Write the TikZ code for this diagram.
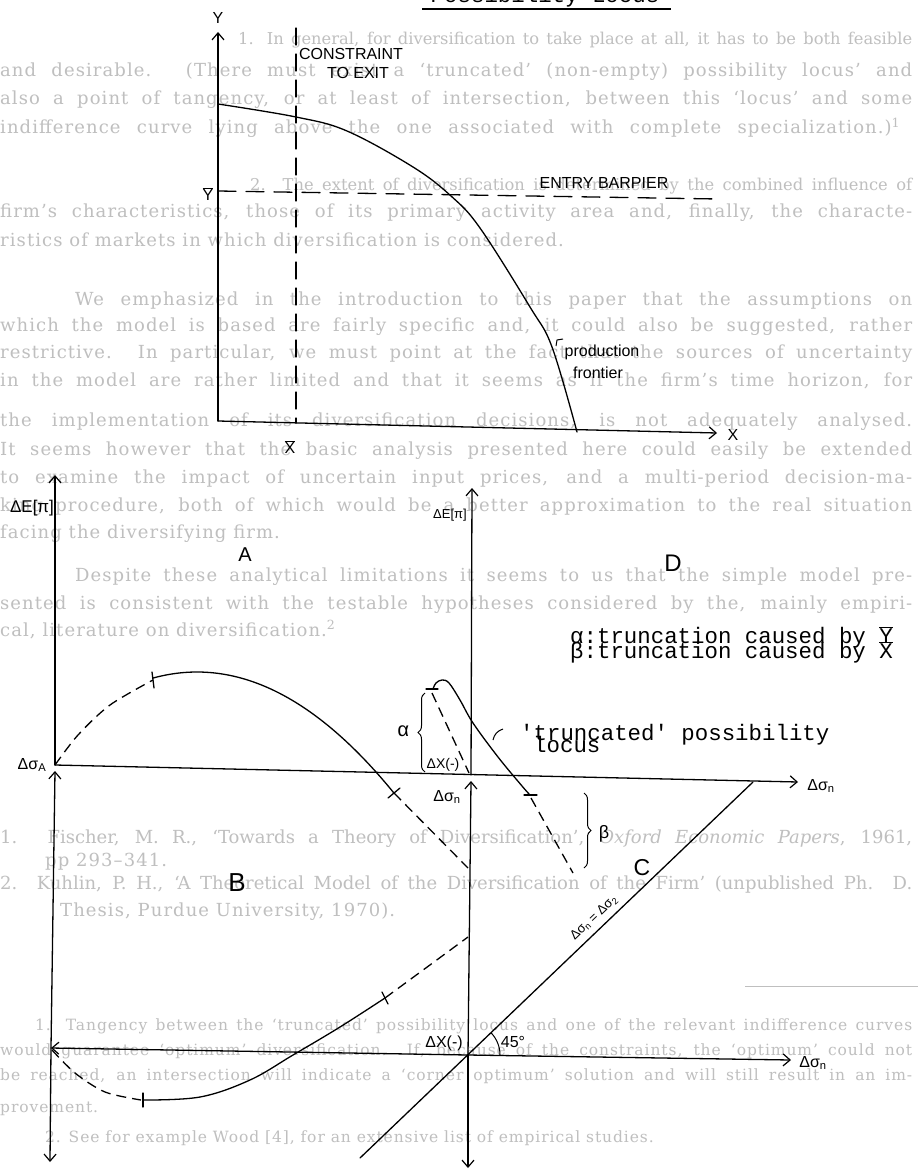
\documentclass[tikz,border=0pt]{standalone}
\usepackage{fontspec}
\setmainfont{Liberation Serif}
\setsansfont{Liberation Sans}
\setmonofont{Liberation Mono}
\newfontfamily\bgfont[LetterSpace=6]{DejaVu Serif}
\newfontfamily\bgfontN{DejaVu Serif}
\usetikzlibrary{arrows.meta,decorations.pathreplacing}
\newcommand{\jb}[2]{\makebox[#1pt][s]{#2}}
\begin{document}
\begin{tikzpicture}[x=1pt,y=-1pt,
  ax/.style={line width=1.3pt,line cap=round},
  tipend/.style={-{Straight Barb[length=7pt,width=12pt,line width=1.2pt]}},
  dsh/.style={line width=1.3pt,dash pattern=on 10pt off 6pt},
  hand/.style={font=\sffamily\fontsize{16}{16}\selectfont,inner sep=0pt},
  big/.style={font=\sffamily\fontsize{20}{20}\selectfont,inner sep=0pt},
  tw/.style={font=\ttfamily\fontsize{22.4}{15}\selectfont,inner sep=0pt,anchor=base west},
  bg/.style={font=\bgfont\fontsize{18}{18}\selectfont,text=black!25,inner sep=0pt,anchor=base west},
  bgn/.style={font=\bgfontN\fontsize{16.3}{16.3}\selectfont,text=black!25,inner sep=0pt,anchor=base west},
  fn/.style={font=\bgfont\fontsize{15.5}{15.5}\selectfont,text=black!25,inner sep=0pt,anchor=base west}]
\useasboundingbox (0,0) rectangle (919,1169);
\fill[white] (0,0) rectangle (919,1169);

% ---------------- faint page text behind the drawing ----------------
\node[tw,anchor=base] (hdr) at (545,3) {Possibility Locus};
\coordinate (hu1) at (422,9); \coordinate (hu2) at (671,9);
\draw[line width=1.5pt] (hu1) -- (hu2);

\node[bgn] (b01) at (238,45) {\jb{674}{1. In general, for diversification to take place at all, it has to be both feasible}};
\node[bg] (b02) at (0,77) {\jb{912}{and desirable. (There must exist a ‘truncated’ (non-empty) possibility locus’ and}};
\node[bg] (b03) at (0,105) {\jb{912}{also a point of tangency, or at least of intersection, between this ‘locus’ and some}};
\node[bg] (b04) at (0,134) {\jb{900}{indifference curve lying above the one associated with complete specialization.)\textsuperscript{1}}};
\node[bgn] (b05) at (250,190) {\jb{662}{2. The extent of diversification is determined by the combined influence of}};
\node[bg] (b06) at (0,218) {\jb{912}{firm’s characteristics, those of its primary activity area and, finally, the characte-}};
\node[bg] (b07) at (0,246) {ristics of markets in which diversification is considered.};
\node[bg] (b08) at (75,305) {\jb{837}{We emphasized in the introduction to this paper that the assumptions on}};
\node[bg] (b09) at (0,331) {\jb{912}{which the model is based are fairly specific and, it could also be suggested, rather}};
\node[bg] (b10) at (0,358) {\jb{912}{restrictive. In particular, we must point at the fact that the sources of uncertainty}};
\node[bg] (b11) at (0,386) {\jb{912}{in the model are rather limited and that it seems as if the firm’s time horizon, for}};
\node[bg] (b12) at (0,426) {\jb{912}{the implementation of its diversification decisions, is not adequately analysed.}};
\node[bg] (b13) at (0,455) {\jb{912}{It seems however that the basic analysis presented here could easily be extended}};
\node[bg] (b14) at (0,483) {\jb{912}{to examine the impact of uncertain input prices, and a multi-period decision-ma-}};
\node[bg] (b15) at (0,511) {\jb{912}{king procedure, both of which would be a better approximation to the real situation}};
\node[bg] (b16) at (0,538) {facing the diversifying firm.};
\node[bg] (b17) at (75,581) {\jb{837}{Despite these analytical limitations it seems to us that the simple model pre-}};
\node[bg] (b18) at (0,609) {\jb{912}{sented is consistent with the testable hypotheses considered by the, mainly empiri-}};
\node[bg] (b19) at (0,636) {cal, literature on diversification.\textsuperscript{2}};
\node[bgn,font=\bgfontN\fontsize{18}{18}\selectfont] (r1) at (0,843) {\jb{912}{1. Fischer, M. R., ‘Towards a Theory of Diversification’, \textit{Oxford Economic Papers}, 1961,}};
\node[bg] (r2) at (45,866) {pp 293–341.};
\node[bgn,font=\bgfontN\fontsize{18}{18}\selectfont] (r3) at (0,889) {\jb{912}{2. Kuhlin, P. H., ‘A Theoretical Model of the Diversification of the Firm’ (unpublished Ph. D.}};
\node[bg] (r4) at (60,916) {Thesis, Purdue University, 1970).};
\coordinate (ru1) at (745,986); \coordinate (ru2) at (918,986);
\draw[black!25,line width=0.8pt] (ru1) -- (ru2);
\node[fn] (f1) at (35,1030) {\jb{877}{1. Tangency between the ‘truncated’ possibility locus and one of the relevant indifference curves}};
\node[fn] (f2) at (0,1055) {\jb{912}{would guarantee ‘optimum’ diversification. If, because of the constraints, the ‘optimum’ could not}};
\node[fn] (f3) at (0,1080) {\jb{912}{be reached, an intersection will indicate a ‘corner optimum’ solution and will still result in an im-}};
\node[fn] (f4) at (0,1112) {provement.};
\node[fn] (f5) at (45,1142) {2. See for example Wood [4], for an extensive list of empirical studies.};

% ---------------- upper diagram ----------------
\coordinate (O1) at (218,421);
\coordinate (Ytop) at (218,32);
\coordinate (Xend) at (717,433);
\coordinate (Ct) at (296,28);
\coordinate (Cb) at (296,423);
\coordinate (Eb1) at (218,191);
\coordinate (Eb2) at (718,199);
\draw[ax,tipend] (O1) -- (Ytop);
\draw[ax,tipend] (O1) -- (Xend);
\draw[ax,dash pattern=on 17pt off 9pt] (Ct) -- (Cb);
\draw[ax,dash pattern=on 18pt off 10pt] (Eb1) -- (Eb2);
\draw[ax] plot[smooth,tension=0.6] coordinates {(218,104) (296,117) (347,131) (413,167) (451,196) (480,228) (530,307) (552,347) (577,432)};
\coordinate (pf1) at (556,346); \coordinate (pf2) at (557,340); \coordinate (pf3) at (563,339);
\draw[line width=1pt] (pf1) -- (pf2) -- (pf3);

\node[hand] (lY) at (218,18) {Y};
\node[hand] (lC1) at (351,54) {CONSTRAINT};
\node[hand] (lC2) at (358,73) {TO EXIT};
\node[hand] (lEB) at (604,183) {ENTRY BARPIER};
\node[hand] (lYb) at (208,194) {$\overline{\mbox{Y}}$};
\node[hand] (lXb) at (290,447) {$\overline{\mbox{X}}$};
\node[hand] (lX) at (733,435) {X};
\node[hand] (lp1) at (602,352) {production};
\node[hand] (lp2) at (598,373) {frontier};

% ---------------- lower diagram ----------------
\coordinate (LT) at (55,475);
\coordinate (LM) at (55,765);
\coordinate (LMa) at (55,771);
\coordinate (LL) at (51,1048);
\coordinate (LB) at (50,1162);
\coordinate (MT) at (472,488);
\coordinate (MM) at (471,775);
\coordinate (MMa) at (471,781);
\coordinate (ML) at (468,1055);
\coordinate (MB) at (468,1168);
\coordinate (HR) at (798,782);
\coordinate (LR) at (791,1060);
\coordinate (DgA) at (360,1158);
\coordinate (DgB) at (753,782);

\draw[ax,tipend] (LM) -- (LT);
\draw[ax,tipend] (LL) -- (LB);
\draw[ax,tipend] (LL) -- (LMa);
\draw[ax,tipend] (MM) -- (MT);
\draw[ax,tipend] (ML) -- (MB);
\draw[ax,tipend] (ML) -- (MMa);
\draw[ax,tipend] (LM) -- (HR);
\draw[ax,tipend] (ML) -- (LL);
\draw[ax,tipend] (ML) -- (LR);
\draw[ax] (DgA) -- (DgB);

% quadrant A curve
\draw[dsh] plot[smooth] coordinates {(55,765) (78,735) (110,705) (153,680)};
\coordinate (ta1) at (152,672); \coordinate (ta2) at (154,688);
\draw[ax] (ta1) -- (ta2);
\draw[ax] plot[domain=153:394,samples=40,smooth] (\x,{672+(0.05586*(\x-197))^2});
\coordinate (tb1) at (388,798); \coordinate (tb2) at (400,788);
\draw[ax] (tb1) -- (tb2);
\coordinate (Aend) at (394,793); \coordinate (Ahit) at (468,868);
\draw[dsh] (Aend) -- (Ahit);

% quadrant D truncated locus
\coordinate (td1) at (426,689); \coordinate (td2) at (438,689);
\draw[ax] (td1) -- (td2);
\draw[ax] plot[smooth,tension=0.6] coordinates {(433,689) (436,683) (442,680) (449,683) (460,700) (473,723) (498,757) (522,786) (530,795)};
\coordinate (te1) at (524,795); \coordinate (te2) at (537,795);
\draw[ax] (te1) -- (te2);
\coordinate (al1) at (432,693); \coordinate (al2) at (469,773);
\draw[dsh] (al1) -- (al2);
\coordinate (be1) at (531,798); \coordinate (be2) at (573,873);
\draw[dsh] (be1) -- (be2);
\coordinate (bra1) at (425,772); \coordinate (bra2) at (425,693);
\draw[line width=1pt,decorate,decoration={brace,amplitude=7pt}] (bra1) -- (bra2);
\coordinate (brb1) at (584,793); \coordinate (brb2) at (584,868);
\draw[line width=1pt,decorate,decoration={brace,amplitude=7pt}] (brb1) -- (brb2);
\coordinate (ld1) at (493,740); \coordinate (ld2) at (503,729);
\draw[line width=1pt] (ld1) to[bend left=30] (ld2);

% quadrant B curve
\draw[dsh] plot[smooth] coordinates {(52,1050) (75,1073) (105,1092) (141,1100)};
\coordinate (tc1) at (143,1093); \coordinate (tc2) at (143,1107);
\draw[ax] (tc1) -- (tc2);
\draw[ax] plot[smooth,tension=0.6] coordinates {(143,1100) (200,1097) (250,1080) (293,1055) (340,1027) (385,998)};
\coordinate (tf1) at (382,992); \coordinate (tf2) at (388,1004);
\draw[ax] (tf1) -- (tf2);
\coordinate (Bend) at (385,998); \coordinate (Bhit) at (468,937);
\draw[dsh] (Bend) -- (Bhit);

% 45 degree arc
\draw[line width=1pt] (500,1055) arc[start angle=0,end angle=-44,radius=32];

% labels
\node[hand,font=\sffamily\fontsize{17}{17}\selectfont] (lE1) at (32,508) {ΔE[π]};
\node[hand,font=\sffamily\fontsize{13}{13}\selectfont] (lE2) at (450,515) {ΔE[π]};
\node[big] (lA) at (245,555) {A};
\node[big,font=\sffamily\fontsize{24}{24}\selectfont] (lD) at (673,563) {D};
\node[big,font=\sffamily\fontsize{26}{26}\selectfont] (lB) at (237,883) {B};
\node[big,font=\sffamily\fontsize{23}{23}\selectfont] (lCq) at (642,868) {C};
\node[hand] (lsA) at (32,765) {Δσ\textsubscript{A}};
\node[hand] (lsR) at (821,786) {Δσ\textsubscript{n}};
\node[hand] (lsM) at (447,797) {Δσ\textsubscript{n}};
\node[hand,font=\sffamily\fontsize{14}{14}\selectfont] (lX1) at (443,765) {ΔX(-)};
\node[hand] (lX2) at (444,1043) {ΔX(-)};
\node[hand] (l45) at (513,1042) {45°};
\node[hand] (lsL) at (813,1063) {Δσ\textsubscript{n}};
\node[hand,font=\sffamily\fontsize{13}{13}\selectfont,rotate=43.7] (lDg) at (594,918) {Δσ\textsubscript{n} = Δσ\textsubscript{2}};
\node[font=\ttfamily\fontsize{20}{20}\selectfont,inner sep=0pt] (lal) at (403,731) {α};
\node[hand,font=\sffamily\fontsize{18}{18}\selectfont] (lbe) at (604,834) {β};
\node[tw] (tl1) at (520,740) {'truncated' possibility};
\node[tw] (tl2) at (533,752) {locus};
\node[tw] (lg1) at (570,643) {α:truncation caused by $\overline{\mbox{Y}}$};
\node[tw] (lg2) at (570,658) {β:truncation caused by $\overline{\mbox{X}}$};
\end{tikzpicture}
\end{document}
